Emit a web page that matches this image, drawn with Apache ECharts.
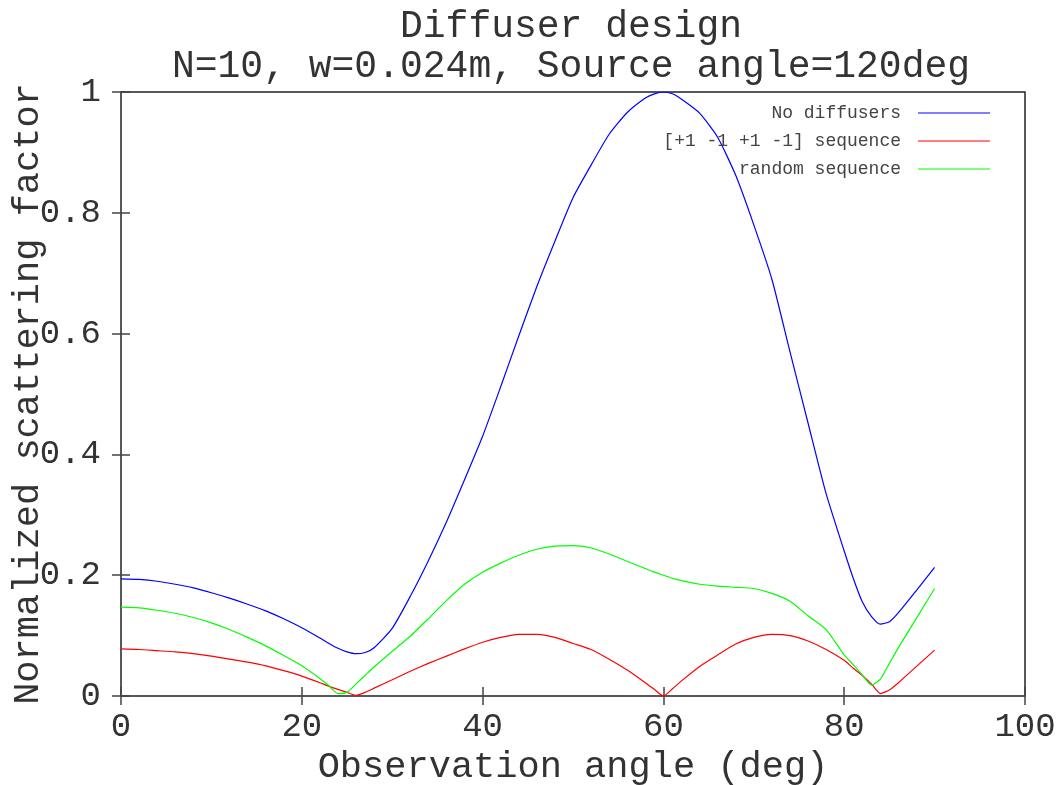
<!DOCTYPE html>
<html>
<head>
<meta charset="utf-8">
<title>Diffuser design</title>
<script src="https://cdn.jsdelivr.net/npm/echarts@6/dist/echarts.min.js"></script>
<style>
  html, body { margin: 0; padding: 0; background: #fff; }
  #chart { width: 1061px; height: 785px; }
</style>
</head>
<body>
<div id="chart"></div>
<script>
// observation angles (deg), shared by all three curves
const angles = [0, 2, 4, 6, 8, 10, 12, 14, 16, 18, 20, 22, 23, 24, 25, 26, 27, 28,
  30, 32, 34, 36, 38, 40, 42, 44, 46, 48, 50, 52, 54, 56, 58, 59, 60, 61,
  62, 64, 66, 68, 70, 72, 74, 76, 78, 80, 81, 82, 83, 84, 85, 86, 88, 90];

// No diffusers
const noDiffusers = [0.194, 0.193, 0.190, 0.185, 0.179, 0.171, 0.162, 0.152, 0.141, 0.128, 0.113, 0.096, 0.087, 0.079, 0.073, 0.070, 0.072, 0.080,
  0.112, 0.165, 0.224, 0.288, 0.358, 0.430, 0.512, 0.596, 0.678, 0.753, 0.825, 0.879, 0.930, 0.966, 0.990, 0.997, 1.000, 0.997,
  0.988, 0.965, 0.925, 0.862, 0.780, 0.690, 0.570, 0.452, 0.335, 0.240, 0.195, 0.156, 0.132, 0.119, 0.123, 0.138, 0.175, 0.213];

// [+1 -1 +1 -1] sequence
const altSequence = [0.078, 0.077, 0.075, 0.073, 0.070, 0.066, 0.061, 0.056, 0.050, 0.042, 0.033, 0.022, 0.016, 0.011, 0.006, 0.001, 0.006, 0.013,
  0.027, 0.041, 0.054, 0.066, 0.078, 0.089, 0.097, 0.102, 0.102, 0.097, 0.087, 0.077, 0.061, 0.043, 0.022, 0.011, 0.000, 0.012,
  0.025, 0.049, 0.068, 0.086, 0.097, 0.102, 0.100, 0.091, 0.077, 0.059, 0.046, 0.034, 0.020, 0.004, 0.010, 0.022, 0.049, 0.076];

// random sequence
const randomSequence = [0.147, 0.146, 0.142, 0.137, 0.130, 0.121, 0.110, 0.097, 0.083, 0.067, 0.050, 0.029, 0.017, 0.004, 0.006, 0.020, 0.034, 0.048,
  0.074, 0.099, 0.128, 0.158, 0.185, 0.205, 0.220, 0.233, 0.243, 0.248, 0.249, 0.245, 0.235, 0.223, 0.211, 0.205, 0.200, 0.195,
  0.191, 0.185, 0.182, 0.180, 0.178, 0.170, 0.157, 0.133, 0.110, 0.068, 0.052, 0.035, 0.018, 0.028, 0.054, 0.080, 0.129, 0.178];

const seriesNames = ['No diffusers', '[+1 -1 +1 -1] sequence', 'random sequence'];
const seriesColors = ['#0000ff', '#ff0000', '#00ff00'];
const seriesValues = [noDiffusers, altSequence, randomSequence];

const FONT = '"Liberation Mono", "DejaVu Sans Mono", monospace';
const TEXT = '#333';

const chart = echarts.init(document.getElementById('chart'), null, { renderer: 'canvas' });

// 坐标轴公共样式：刻度朝内，四边镜像
const tickStyle = { show: true, inside: true, length: 9, lineStyle: { color: '#444', width: 1.5 } };

const option = {
  animation: false,
  backgroundColor: '#fff',
  title: {
    text: 'Diffuser design\nN=10, w=0.024m, Source angle=120deg',
    left: 566,
    top: 2,
    textAlign: 'center',
    textStyle: { fontFamily: FONT, fontSize: 38, fontWeight: 'normal', color: TEXT, lineHeight: 40 }
  },
  legend: {
    orient: 'vertical',
    right: 66,
    top: 99,
    align: 'right',
    itemWidth: 72,
    itemHeight: 14,
    itemGap: 10,
    icon: 'path://M0,7 L72,7 L72,8 L0,8 Z',
    textStyle: { fontFamily: FONT, fontSize: 18, color: '#444', width: 260, align: 'right', padding: [0, 12, 0, 0] },
    data: seriesNames.map((n, i) => ({ name: n, itemStyle: { color: seriesColors[i] } }))
  },
  grid: {
    left: 121, right: 36, top: 92, bottom: 89,
    outerBoundsMode: 'none',
    containLabel: false,
    show: true, borderColor: '#222', borderWidth: 1.5
  },
  xAxis: [
    {
      type: 'value', min: 0, max: 100, interval: 20,
      name: 'Observation angle (deg)', nameLocation: 'middle', nameGap: 52,
      nameTextStyle: { fontFamily: FONT, fontSize: 37, color: TEXT },
      axisLine: { show: false },
      axisTick: tickStyle,
      axisLabel: { fontFamily: FONT, fontSize: 34, color: TEXT, margin: 14 },
      splitLine: { show: false }
    },
    {
      type: 'value', min: 0, max: 100, interval: 20, position: 'top',
      axisLine: { show: false }, axisTick: tickStyle,
      axisLabel: { show: false }, splitLine: { show: false }
    }
  ],
  yAxis: [
    {
      type: 'value', min: 0, max: 1, interval: 0.2,
      name: 'Normalized scattering factor', nameLocation: 'middle', nameGap: 74,
      nameMoveOverlap: false,
      nameTextStyle: { fontFamily: FONT, fontSize: 37, color: TEXT },
      axisLine: { show: false },
      axisTick: tickStyle,
      axisLabel: { fontFamily: FONT, fontSize: 34, color: TEXT, margin: 20 },
      splitLine: { show: false }
    },
    {
      type: 'value', min: 0, max: 1, interval: 0.2, position: 'right',
      axisLine: { show: false }, axisTick: tickStyle,
      axisLabel: { show: false }, splitLine: { show: false }
    }
  ],
  series: seriesNames.map((name, i) => ({
    name,
    type: 'line',
    xAxisIndex: 0,
    yAxisIndex: 0,
    symbol: 'none',
    smooth: 0.2,
    lineStyle: { color: seriesColors[i], width: 1.2 },
    itemStyle: { color: seriesColors[i] },
    data: angles.map((a, k) => [a, seriesValues[i][k]])
  }))
};

chart.setOption(option);
</script>
</body>
</html>
